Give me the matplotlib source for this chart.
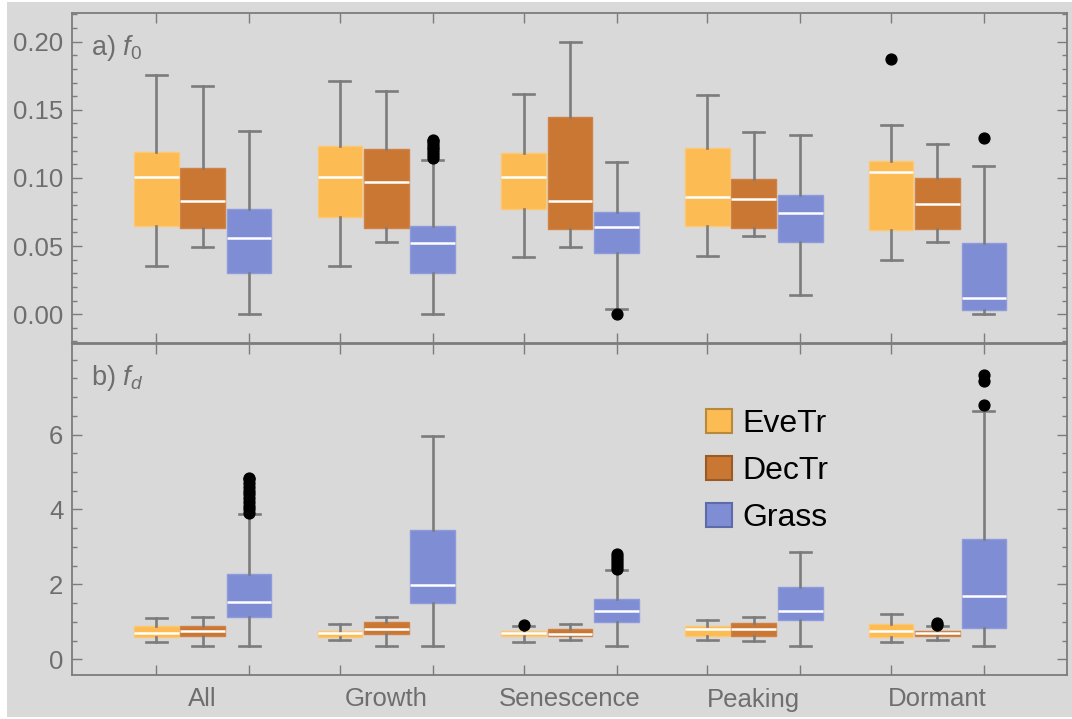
import matplotlib
matplotlib.use("Agg")
import matplotlib.pyplot as plt
from matplotlib.patches import Patch, Rectangle
from matplotlib.ticker import MultipleLocator, FixedLocator, FormatStrFormatter

plt.rcParams['font.family'] = ['Liberation Sans', 'DejaVu Sans']
plt.rcParams['mathtext.fontset'] = 'custom'
plt.rcParams['mathtext.it'] = 'Liberation Sans:italic'
plt.rcParams['mathtext.rm'] = 'Liberation Sans'

groups = ["All", "Growth", "Senescence", "Peaking", "Dormant"]
types = ["EveTr", "DecTr", "Grass"]

# rows per group: [whisker low, Q1, median, Q3, whisker high]
f0_evetr = [[0.0355, 0.065, 0.101, 0.119, 0.1757],
            [0.0355, 0.0713, 0.101, 0.1238, 0.1713],
            [0.0417, 0.0772, 0.101, 0.1186, 0.1615],
            [0.0424, 0.065, 0.086, 0.1218, 0.1608],
            [0.0397, 0.0618, 0.1047, 0.1127, 0.139]]
f0_dectr = [[0.0495, 0.063, 0.0828, 0.1071, 0.1676],
            [0.0527, 0.0635, 0.0968, 0.1211, 0.164],
            [0.0495, 0.0623, 0.0828, 0.1444, 0.1995],
            [0.0576, 0.063, 0.0846, 0.0993, 0.1336],
            [0.0527, 0.0623, 0.0809, 0.0998, 0.125]]
f0_grass = [[0.0, 0.0306, 0.0559, 0.077, 0.1346],
            [0.0, 0.0306, 0.052, 0.065, 0.113],
            [0.0037, 0.0446, 0.0637, 0.075, 0.112],
            [0.0142, 0.0532, 0.0743, 0.0877, 0.1316],
            [0.0, 0.003, 0.012, 0.0525, 0.1088]]
f0_evetr_out = [[], [], [], [], [0.187]]
f0_dectr_out = [[], [], [], [], []]
f0_grass_out = [[], [0.115, 0.117, 0.119, 0.121, 0.123, 0.125, 0.127, 0.128],
                [0.0005], [], [0.1292]]

fd_evetr = [[0.473, 0.607, 0.714, 0.875, 1.10],
            [0.527, 0.607, 0.688, 0.768, 0.946],
            [0.47, 0.62, 0.70, 0.75, 0.89],
            [0.527, 0.616, 0.82, 0.90, 1.05],
            [0.473, 0.607, 0.76, 0.946, 1.214]]
fd_dectr = [[0.366, 0.616, 0.75, 0.90, 1.125],
            [0.366, 0.68, 0.81, 0.99, 1.125],
            [0.527, 0.62, 0.68, 0.82, 0.946],
            [0.482, 0.616, 0.795, 0.973, 1.125],
            [0.509, 0.625, 0.696, 0.768, 0.884]]
fd_grass = [[0.366, 1.125, 1.527, 2.286, 3.89],
            [0.366, 1.5, 1.98, 3.46, 5.95],
            [0.366, 0.99, 1.295, 1.607, 2.38],
            [0.366, 1.054, 1.277, 1.92, 2.866],
            [0.366, 0.84, 1.69, 3.205, 6.64]]
fd_evetr_out = [[], [], [0.92], [], []]
fd_dectr_out = [[], [], [], [], [0.92, 0.97]]
fd_grass_out = [[3.9, 4.0, 4.1, 4.2, 4.3, 4.4, 4.5, 4.6, 4.7, 4.8, 4.85],
                [], [2.42, 2.5, 2.58, 2.66, 2.74, 2.82], [], [6.79, 7.42, 7.6]]

f0_major_ticks = [0.0, 0.05, 0.10, 0.15, 0.20]
fd_major_ticks = [0, 2, 4, 6]

colors = ["#FCBB53", "#C97733", "#7F8DD5"]
edgecolors = ["#FDC874", "#D08245", "#8E9AD9"]
bg = "#D9D9D9"
axis_gray = "#7C7C7C"
text_gray = "#6E6E6E"

W, H = 1072, 719
fig = plt.figure(figsize=(W / 100, H / 100), dpi=100, facecolor="white")
fig.patches.append(Rectangle((7 / W, 2 / H), 1 - 7 / W, (717 - 2) / H,
                             transform=fig.transFigure, facecolor=bg,
                             edgecolor="none", zorder=-10))

left = 71.7 / W
right = 1067 / W
ax1 = fig.add_axes([left, 1 - 343.5 / H, right - left, (343.5 - 12.7) / H])
ax2 = fig.add_axes([left, 1 - 675 / H, right - left, (675 - 343.5) / H])

offsets = [-0.2527, 0.0, 0.2527]
centers = [1, 2, 3, 4, 5]
bw = 0.2435
capw = 0.114


def draw(ax, data_list, out_list):
    for k, (data, outs) in enumerate(zip(data_list, out_list)):
        stats = []
        for g in range(len(groups)):
            lo, q1, med, q3, hi = data[g]
            stats.append(dict(whislo=lo, q1=q1, med=med, q3=q3, whishi=hi,
                              fliers=outs[g], label=""))
        pos = [c + offsets[k] for c in centers]
        ax.bxp(stats, positions=pos, widths=bw, capwidths=capw,
               patch_artist=True, showfliers=True, manage_ticks=False,
               boxprops=dict(facecolor=colors[k], edgecolor=edgecolors[k],
                             linewidth=1.0),
               medianprops=dict(color="white", linewidth=1.8),
               whiskerprops=dict(color=axis_gray, linewidth=1.9),
               capprops=dict(color=axis_gray, linewidth=1.9),
               flierprops=dict(marker="o", markerfacecolor="black",
                               markeredgecolor="black", markersize=7.8,
                               linestyle="none"))


draw(ax1, [f0_evetr, f0_dectr, f0_grass], [f0_evetr_out, f0_dectr_out, f0_grass_out])
draw(ax2, [fd_evetr, fd_dectr, fd_grass], [fd_evetr_out, fd_dectr_out, fd_grass_out])

box_ticks = [c + o for c in centers for o in offsets]
for ax in (ax1, ax2):
    ax.set_facecolor(bg)
    ax.set_xlim(0.287, 5.705)
    for s in ax.spines.values():
        s.set_color(axis_gray)
        s.set_linewidth(1.3)
    ax.set_xticks(centers)
    ax.set_xticklabels(groups if ax is ax2 else [""] * len(groups))
    ax.set_xticks(box_ticks, minor=True)
    ax.tick_params(axis="x", which="major", length=0, labelsize=18.5,
                   labelcolor=text_gray, pad=9)
    ax.tick_params(axis="x", which="minor", direction="in", length=7,
                   width=1.0, color=axis_gray, top=True, bottom=True)
    ax.tick_params(axis="y", which="major", direction="in", length=7,
                   width=1.0, color=axis_gray, left=True, right=True,
                   labelsize=18.5, labelcolor=text_gray, pad=6)
    ax.tick_params(axis="y", which="minor", direction="in", length=3.6,
                   width=1.0, color=axis_gray, left=True, right=True)

ax1.set_ylim(-0.0215, 0.2213)
ax1.yaxis.set_major_locator(FixedLocator(f0_major_ticks))
ax1.yaxis.set_minor_locator(MultipleLocator(0.01))
ax1.yaxis.set_major_formatter(FormatStrFormatter("%.2f"))

ax2.set_ylim(-0.42, 8.43)
ax2.yaxis.set_major_locator(FixedLocator(fd_major_ticks))
ax2.yaxis.set_minor_locator(MultipleLocator(0.5))

ax1.text(0.0197, 0.892, r"a) $f_0$", transform=ax1.transAxes, fontsize=19.5,
         color=text_gray, va="center", ha="left")
ax2.text(0.0197, 0.896, r"b) $f_d$", transform=ax2.transAxes, fontsize=19.5,
         color=text_gray, va="center", ha="left")

handles = [Patch(facecolor=c, edgecolor=e, linewidth=1.5)
           for c, e in zip(colors, ["#B8893A", "#9A5A26", "#5F6BA8"])]
ax2.legend(handles, types, loc="upper left", frameon=False,
           bbox_to_anchor=(706 / W, 1 - 409 / H), bbox_transform=fig.transFigure,
           fontsize=23, handlelength=0.8, handleheight=0.8, handletextpad=0.35,
           labelspacing=0.52, borderpad=0, borderaxespad=0)

fig.savefig("out.png", dpi=100, facecolor="white")
